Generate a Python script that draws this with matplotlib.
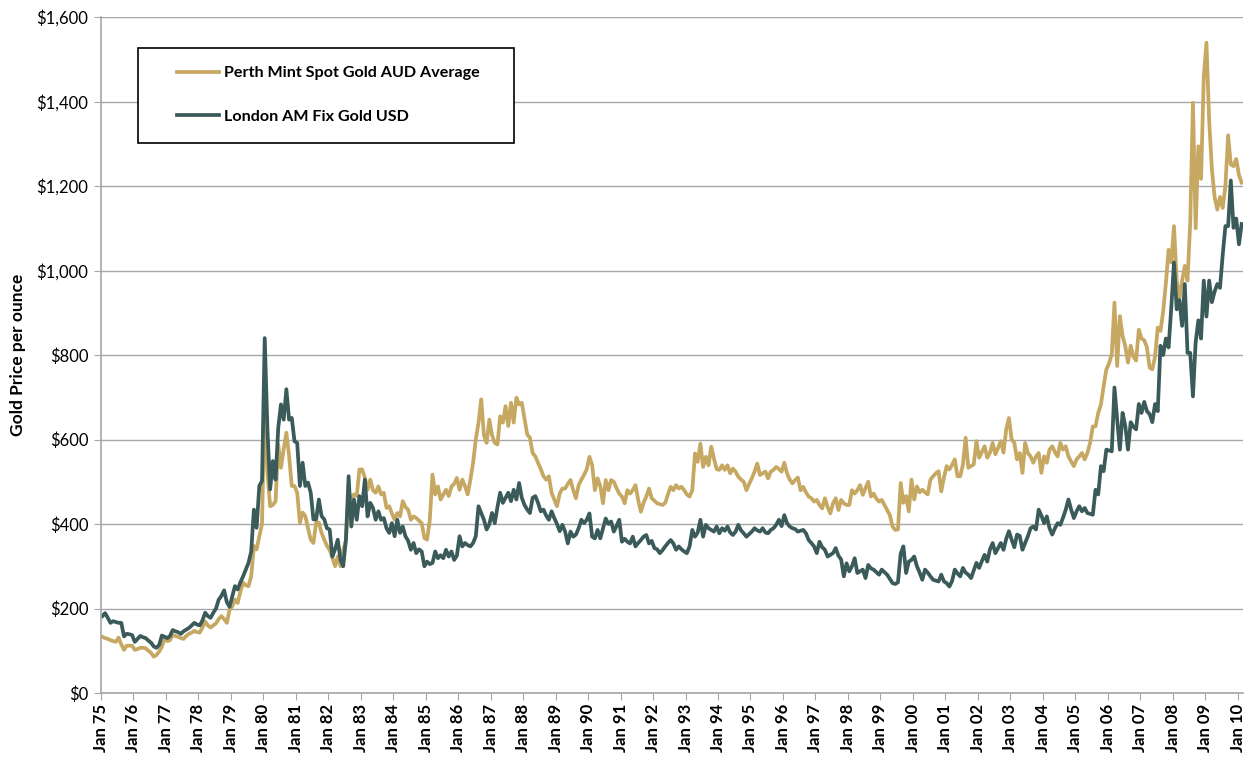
import numpy as np
import matplotlib
matplotlib.use("Agg")
import matplotlib.pyplot as plt
from matplotlib.patches import Rectangle
from matplotlib.ticker import FuncFormatter

# monthly values, Jan 1975 .. Feb 2010
usd = [
    182, 189, 178, 166, 170, 168, 166, 166, 134, 140, 139, 137,  # 1975
    121, 128, 135, 132, 130, 124, 119, 110, 107, 114, 136, 133,  # 1976
    130, 135, 149, 146, 144, 140, 146, 150, 154, 160, 166, 162,  # 1977
    160, 172, 190, 182, 178, 190, 200, 221, 230, 243, 215, 204,  # 1978
    229, 253, 245, 262, 276, 292, 308, 335, 434, 391, 490, 502,  # 1979
    840, 624, 482, 549, 505, 628, 683, 647, 719, 647, 651, 596,  # 1980
    592, 490, 545, 490, 498, 474, 411, 411, 458, 419, 411, 390,  # 1981
    387, 323, 340, 363, 315, 300, 363, 513, 394, 458, 410, 466,  # 1982
    442, 505, 418, 450, 438, 410, 430, 410, 414, 390, 379, 402,  # 1983
    371, 410, 379, 394, 371, 360, 339, 355, 331, 340, 335, 300,  # 1984
    311, 305, 308, 335, 319, 326, 319, 339, 323, 335, 315, 325,  # 1985
    371, 347, 355, 350, 347, 355, 371, 442, 426, 410, 387, 400,  # 1986
    426, 402, 440, 474, 450, 462, 474, 454, 481, 458, 497, 462,  # 1987
    445, 434, 426, 462, 466, 450, 430, 434, 420, 410, 430, 414,  # 1988
    400, 383, 398, 382, 354, 382, 370, 375, 390, 410, 402, 410,  # 1989
    425, 370, 366, 386, 366, 390, 413, 400, 406, 382, 395, 410,  # 1990
    358, 365, 358, 354, 370, 347, 355, 362, 370, 374, 354, 360,  # 1991
    343, 340, 331, 338, 347, 355, 362, 354, 339, 347, 340, 335,  # 1992
    331, 347, 386, 370, 380, 410, 370, 398, 390, 386, 382, 394,  # 1993
    378, 390, 384, 394, 380, 374, 382, 398, 385, 378, 370, 376,  # 1994
    382, 390, 385, 382, 390, 380, 378, 386, 390, 398, 410, 395,  # 1995
    421, 402, 394, 390, 388, 382, 384, 386, 378, 362, 355, 347,  # 1996
    331, 358, 345, 339, 323, 327, 331, 343, 325, 316, 276, 307,  # 1997
    288, 300, 319, 284, 288, 292, 272, 303, 295, 292, 286, 280,  # 1998
    292, 286, 280, 270, 260, 258, 262, 330, 347, 284, 311, 315,  # 1999
    323, 300, 285, 268, 292, 285, 276, 268, 266, 264, 280, 264,  # 2000
    260, 252, 265, 292, 283, 276, 296, 285, 280, 272, 290, 308,  # 2001
    296, 312, 327, 311, 340, 355, 331, 343, 355, 339, 365, 383,  # 2002
    363, 345, 375, 372, 339, 355, 371, 390, 394, 387, 434, 420,  # 2003
    402, 418, 390, 375, 390, 402, 398, 415, 434, 458, 434, 414,  # 2004
    430, 442, 430, 438, 426, 424, 422, 481, 470, 537, 525, 576,  # 2005
    574, 572, 723, 647, 576, 663, 632, 576, 641, 630, 624, 684,  # 2006
    663, 689, 667, 660, 641, 684, 667, 822, 800, 839, 818, 912,  # 2007
    1019, 908, 930, 869, 968, 805, 805, 702, 830, 882, 839, 976,  # 2008
    891, 976, 925, 950, 968, 959, 1037, 1105, 1105, 1213, 1101, 1123,  # 2009
    1062, 1110,  # 2010
]

aud = [
    133, 130, 128, 125, 123, 121, 131, 115, 102, 112, 112, 112,  # 1975
    102, 104, 107, 107, 106, 100, 95, 86, 90, 98, 110, 128,  # 1976
    123, 125, 137, 135, 133, 130, 128, 135, 140, 143, 147, 144,  # 1977
    143, 155, 169, 160, 155, 160, 165, 175, 182, 175, 166, 197,  # 1978
    205, 221, 213, 240, 261, 255, 253, 276, 348, 340, 371, 400,  # 1979
    712, 520, 442, 445, 454, 588, 533, 577, 616, 561, 490, 490,  # 1980
    474, 403, 427, 419, 390, 363, 355, 403, 403, 379, 363, 348,  # 1981
    339, 320, 300, 323, 300, 339, 360, 474, 462, 470, 466, 529,  # 1982
    529, 510, 481, 505, 480, 474, 489, 470, 474, 438, 442, 425,  # 1983
    410, 426, 418, 454, 440, 434, 410, 418, 414, 408, 402, 367,  # 1984
    363, 410, 517, 470, 489, 458, 470, 481, 466, 489, 495, 509,  # 1985
    481, 505, 490, 470, 505, 545, 600, 640, 695, 610, 592, 647,  # 1986
    610, 592, 588, 655, 640, 679, 632, 687, 640, 699, 683, 687,  # 1987
    650, 612, 604, 568, 560, 545, 530, 513, 505, 513, 474, 458,  # 1988
    442, 472, 484, 484, 495, 504, 480, 461, 492, 505, 516, 530,  # 1989
    559, 539, 480, 508, 490, 449, 504, 480, 504, 500, 485, 472,  # 1990
    465, 449, 480, 472, 480, 492, 457, 429, 450, 465, 484, 461,  # 1991
    455, 449, 447, 445, 450, 470, 488, 480, 492, 484, 488, 480,  # 1992
    470, 465, 480, 567, 547, 590, 535, 559, 539, 583, 555, 530,  # 1993
    528, 539, 528, 539, 520, 531, 524, 512, 505, 500, 480, 495,  # 1994
    508, 524, 543, 516, 520, 524, 508, 524, 528, 535, 530, 524,  # 1995
    545, 520, 505, 496, 504, 510, 480, 488, 475, 465, 461, 453,  # 1996
    457, 445, 437, 461, 440, 425, 449, 461, 433, 457, 449, 445,  # 1997
    445, 480, 472, 480, 492, 469, 485, 500, 465, 472, 460, 453,  # 1998
    457, 445, 433, 421, 394, 386, 387, 497, 450, 466, 430, 505,  # 1999
    458, 489, 475, 481, 475, 470, 505, 513, 520, 525, 477, 510,  # 2000
    537, 529, 540, 553, 513, 513, 540, 604, 533, 537, 541, 596,  # 2001
    557, 570, 584, 557, 569, 592, 565, 580, 596, 569, 624, 651,  # 2002
    600, 592, 553, 568, 521, 592, 568, 560, 545, 560, 568, 521,  # 2003
    560, 545, 576, 584, 570, 560, 592, 576, 584, 560, 548, 537,  # 2004
    553, 560, 568, 553, 568, 592, 631, 631, 663, 683, 726, 766,  # 2005
    780, 802, 924, 774, 892, 845, 821, 782, 822, 796, 787, 860,  # 2006
    839, 835, 818, 770, 766, 796, 865, 857, 903, 970, 1049, 1019,  # 2007
    1105, 976, 934, 976, 1011, 976, 1114, 1397, 1100, 1294, 1217, 1458,  # 2008
    1539, 1354, 1240, 1174, 1144, 1174, 1148, 1200, 1320, 1251, 1247, 1264,  # 2009
    1226, 1208,  # 2010
]

years = list(range(1975, 2011))
tick_labels = ["Jan %02d" % (y % 100) for y in years]
y_ticks = [0, 200, 400, 600, 800, 1000, 1200, 1400, 1600]

gold_col = "#C6A862"
dark_col = "#3A5B5A"
grey = "#A6A6A6"

plt.rcParams["font.family"] = ["Lato", "DejaVu Sans"]

n = len(usd)
t = 1975 + (np.arange(n) + 0.5) / 12.0

fig = plt.figure(figsize=(12.52, 7.58), dpi=100)
ax = fig.add_axes([101 / 1252, 65 / 758, 1142 / 1252, 676 / 758])

ax.plot(t, aud, color=gold_col, lw=2.7, label="Perth Mint Spot Gold AUD Average", zorder=2)
ax.plot(t, usd, color=dark_col, lw=2.7, label="London AM Fix Gold USD", zorder=2.1)

ax.set_xlim(1975, 1975 + n / 12.0)
ax.set_ylim(0, 1600)
ax.set_yticks(y_ticks)
ax.yaxis.set_major_formatter(FuncFormatter(lambda v, p: "${:,.0f}".format(v)))
ax.set_xticks(years)
ax.set_xticklabels(tick_labels, rotation=90, fontweight="bold", fontsize=12)
ax.tick_params(axis="y", labelsize=12, length=5, color=grey, pad=4)
ax.tick_params(axis="x", length=5, color=grey, pad=3)

ax.grid(axis="y", color=grey, lw=1)
ax.set_axisbelow(True)
for s in ["top", "right"]:
    ax.spines[s].set_visible(False)
for s in ["left", "bottom"]:
    ax.spines[s].set_color(grey)
    ax.spines[s].set_linewidth(1.2)

ax.set_ylabel("Gold Price per ounce", fontweight="bold", fontsize=12.5, labelpad=8)

# legend box
box = Rectangle((37 / 1142, (693 - 143) / 676), 376 / 1142, 95 / 676,
                transform=ax.transAxes, facecolor="white", edgecolor="black",
                lw=1.2, zorder=3)
ax.add_patch(box)
leg = ax.legend(loc="upper left", bbox_to_anchor=(76 / 1142, (693 - 66) / 676),
                frameon=False, borderpad=0, borderaxespad=0, handlelength=2.6,
                handletextpad=0.3, labelspacing=1.8,
                prop={"weight": "bold", "size": 11.6})
leg.set_zorder(4)

fig.savefig("out.png", dpi=100)
